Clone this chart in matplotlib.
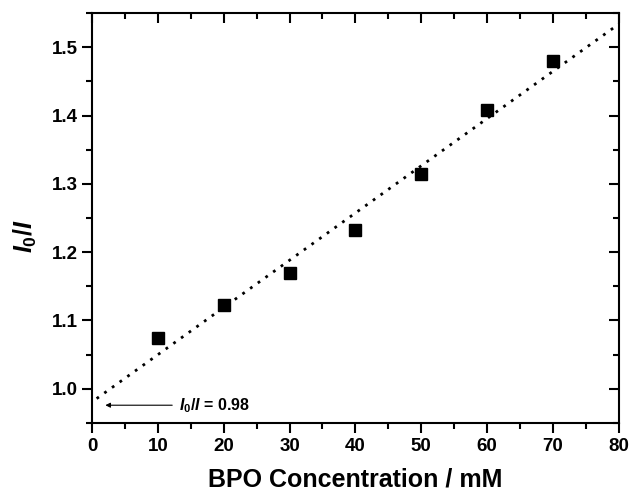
import numpy as np
import matplotlib
matplotlib.use('Agg')
import matplotlib.pyplot as plt
from matplotlib.ticker import MultipleLocator

plt.rcParams['font.family'] = 'Liberation Sans'
plt.rcParams['font.weight'] = 'bold'
plt.rcParams['mathtext.fontset'] = 'custom'
plt.rcParams['mathtext.it'] = 'Liberation Sans:italic:bold'
plt.rcParams['mathtext.rm'] = 'Liberation Sans:bold'

# data
conc = [10, 20, 30, 40, 50, 60, 70]
ratio = [1.074, 1.122, 1.170, 1.232, 1.315, 1.408, 1.480]
intercept_label = 0.98

fig = plt.figure(figsize=(6.32, 4.95), dpi=100)
ax = fig.add_axes([0.1456, 0.1455, 0.979 - 0.1456, 0.9737 - 0.1455])

# linear fit
k, b = np.polyfit(conc, ratio, 1)
xf = np.array([0.7, 80])
ax.plot(xf, k * xf + b, color='black', lw=2, linestyle=(0, (1, 2.4)))

ax.plot(conc, ratio, 's', color='black', ms=8.5)

ax.annotate('', xy=(1.6, 0.976), xytext=(12.6, 0.976),
            arrowprops=dict(arrowstyle='-|>', color='black', lw=0.8,
                            mutation_scale=7))
ax.text(13.2, 0.976, r'$I_0/I$ = %.2f' % intercept_label, fontsize=11.5,
        fontweight='bold', va='center', ha='left')

ax.set_xlim(0, 80)
ax.set_ylim(0.95, 1.55)
ax.xaxis.set_major_locator(MultipleLocator(10))
ax.xaxis.set_minor_locator(MultipleLocator(5))
ax.yaxis.set_major_locator(MultipleLocator(0.1))
ax.yaxis.set_minor_locator(MultipleLocator(0.05))
ax.yaxis.set_major_formatter(plt.FormatStrFormatter('%.1f'))

ax.tick_params(which='both', direction='out', width=1.5, labelsize=13.5)
ax.tick_params(which='major', length=7)
ax.tick_params(which='minor', length=4)
ax.tick_params(which='both', top=True, right=True)
for t in ax.xaxis.get_ticklines(minor=False)[1::2] + ax.xaxis.get_ticklines(minor=True)[1::2]:
    t.set_marker(3)
for t in ax.yaxis.get_ticklines(minor=False)[1::2] + ax.yaxis.get_ticklines(minor=True)[1::2]:
    t.set_marker(0)
for s in ax.spines.values():
    s.set_linewidth(1.5)

ax.set_xlabel('BPO Concentration / mM', fontsize=18, fontweight='bold', labelpad=9)
ax.set_ylabel(r'$I_0/I$', fontsize=18, fontweight='bold')
ax.yaxis.set_label_coords(-0.1, 0.456)

fig.savefig('out.png', dpi=100)
